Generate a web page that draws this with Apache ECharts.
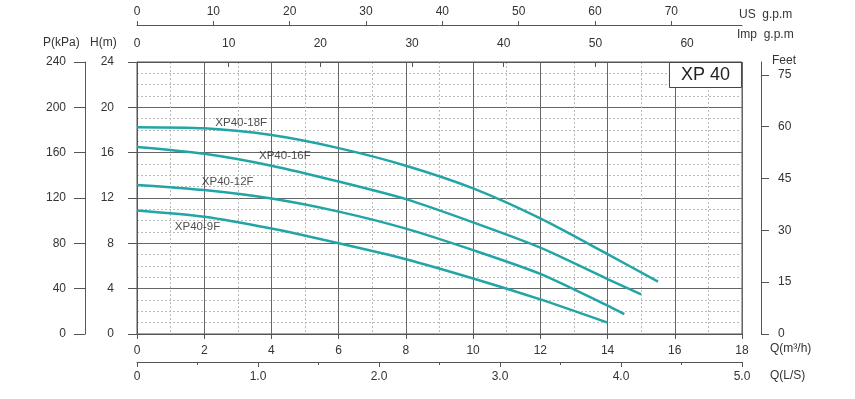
<!DOCTYPE html>
<html>
<head>
<meta charset="utf-8">
<title>XP 40</title>
<script src="https://cdn.jsdelivr.net/npm/echarts@6/dist/echarts.min.js"></script>
<style>
    html, body { margin: 0; padding: 0; background: #fff; }
    #chart { width: 855px; height: 399px; }
</style>
</head>
<body>
<div id="chart"></div>
<script>
// 曲线数据 Q(m3/h) -> H(m)
var q18 = [0, 2, 4, 6, 8, 10, 12, 14, 15.5];
var h18 = [18.25, 18.15, 17.55, 16.4, 14.85, 12.85, 10.2, 7.05, 4.62];
var q16 = [0, 2, 4, 6, 8, 10, 12, 14, 15.0];
var h16 = [16.5, 15.9, 14.85, 13.45, 11.9, 9.85, 7.62, 4.85, 3.5];
var q12 = [0, 2, 4, 6, 8, 10, 12, 14, 14.5];
var h12 = [13.15, 12.7, 11.95, 10.8, 9.3, 7.4, 5.3, 2.5, 1.75];
var q9 = [0, 2, 4, 6, 8, 10, 12, 14];
var h9 = [10.9, 10.35, 9.3, 8.0, 6.6, 4.9, 3.05, 1.0];

// 曲线名称与位置
var labelNames = ['XP40-18F', 'XP40-16F', 'XP40-12F', 'XP40-9F'];
var labelQ = [3.1, 4.4, 2.7, 1.8];
var labelH = [18.65, 15.7, 13.4, 9.45];

// 换算
var M3H_MAX = 18;
var US_GPM = 4.403;   // 1 m3/h
var IMP_GPM = 3.666;
var FEET = 3.2808;

var font = 'Liberation Sans, Arial, sans-serif';
var txt = '#333';
var lineColor = '#22a5a7';

function pairs(q, h) {
    var out = [];
    for (var i = 0; i < q.length; i++) out.push([q[i], h[i]]);
    return out;
}

var curves = [[q18, h18], [q16, h16], [q12, h12], [q9, h9]];
var series = curves.map(function (c, i) {
    return {
        name: labelNames[i],
        type: 'line',
        smooth: 0.25,
        symbol: 'none',
        xAxisIndex: 0,
        yAxisIndex: 0,
        lineStyle: { color: lineColor, width: 2.5 },
        data: pairs(c[0], c[1]),
        z: 5
    };
});
series.push({
    type: 'scatter',
    symbolSize: 0,
    xAxisIndex: 0,
    yAxisIndex: 0,
    data: labelNames.map(function (n, i) { return [labelQ[i], labelH[i], n]; }),
    label: {
        show: true,
        position: 'inside',
        formatter: function (p) { return p.value[2]; },
        color: '#222',
        fontSize: 11.5,
        fontFamily: font
    },
    z: 6
});

var axisGray = '#555';

var myChart = echarts.init(document.getElementById('chart'));
myChart.setOption({
    animation: false,
    textStyle: { fontFamily: font },
    title: {
        text: 'XP 40',
        right: 113,
        top: 62,
        padding: [4, 12, 4, 12],
        borderColor: '#444',
        borderWidth: 1,
        backgroundColor: '#fff',
        textStyle: { fontSize: 18, fontWeight: 'normal', color: '#222', fontFamily: font }
    },
    grid: {
        left: 137, right: 113, top: 62, bottom: 65,
        show: true, borderColor: axisGray, borderWidth: 1
    },
    xAxis: [{
        type: 'value', position: 'bottom', min: 0, max: M3H_MAX, interval: 2,
        axisLine: { lineStyle: { color: axisGray } },
        axisTick: { show: true, length: 5, lineStyle: { color: axisGray } },
        axisLabel: { color: txt, fontSize: 12, margin: 11 },
        splitLine: { show: true, lineStyle: { color: '#666', width: 1 } },
        minorTick: { show: false, splitNumber: 2 },
        minorSplitLine: { show: true, lineStyle: { color: '#bbb', type: [2, 2] } }
    }, {
        type: 'value', position: 'bottom', offset: 28, min: 0, max: 5, interval: 1,
        axisLine: { onZero: false, lineStyle: { color: axisGray } },
        axisTick: { show: true, length: 5, lineStyle: { color: axisGray } },
        minorTick: { show: true, splitNumber: 2, length: 3, lineStyle: { color: axisGray } },
        axisLabel: {
            color: txt, fontSize: 12, margin: 9,
            formatter: function (v) { return v === 0 ? '0' : v.toFixed(1); }
        },
        splitLine: { show: false }
    }, {
        type: 'value', position: 'top', offset: 0, min: 0, max: M3H_MAX * IMP_GPM, interval: 10,
        axisLine: { onZero: false, lineStyle: { color: axisGray } },
        axisTick: { show: true, inside: true, length: 5, lineStyle: { color: axisGray } },
        axisLabel: { color: txt, fontSize: 12, margin: 12, showMaxLabel: false },
        splitLine: { show: false }
    }, {
        type: 'value', position: 'top', offset: 37, min: 0, max: M3H_MAX * US_GPM, interval: 10,
        axisLine: { onZero: false, lineStyle: { color: axisGray } },
        axisTick: { show: true, length: 4, lineStyle: { color: axisGray } },
        axisLabel: { color: txt, fontSize: 12, margin: 7, showMaxLabel: false },
        splitLine: { show: false }
    }],
    yAxis: [{
        type: 'value', position: 'left', min: 0, max: 24, interval: 4,
        axisLine: { show: true, onZero: false, lineStyle: { color: axisGray } },
        axisTick: { show: true, length: 9, lineStyle: { color: axisGray } },
        axisLabel: { color: txt, fontSize: 12, margin: 23 },
        splitLine: { show: true, lineStyle: { color: '#666', width: 1 } },
        minorTick: { show: false, splitNumber: 4 },
        minorSplitLine: { show: true, lineStyle: { color: '#bbb', type: [2, 2] } }
    }, {
        type: 'value', position: 'left', offset: 52, min: 0, max: 240, interval: 40,
        axisLine: { show: true, onZero: false, lineStyle: { color: axisGray } },
        axisTick: { show: true, length: 11, lineStyle: { color: axisGray } },
        axisLabel: { color: txt, fontSize: 12, margin: 19 },
        splitLine: { show: false }
    }, {
        type: 'value', position: 'right', offset: 19, min: 0, max: 24 * FEET, interval: 15,
        axisLine: { show: true, onZero: false, lineStyle: { color: axisGray } },
        axisTick: { show: true, length: 8, lineStyle: { color: axisGray } },
        axisLabel: { color: txt, fontSize: 12, margin: 17, showMaxLabel: false },
        splitLine: { show: false }
    }],
    graphic: [
        { type: 'text', left: 43, top: 37, style: { text: 'P(kPa)', fill: txt, font: '12px ' + font } },
        { type: 'text', left: 90, top: 37, style: { text: 'H(m)', fill: txt, font: '12px ' + font } },
        { type: 'text', left: 772, top: 55, style: { text: 'Feet', fill: txt, font: '12px ' + font } },
        { type: 'text', left: 770, top: 343, style: { text: 'Q(m³/h)', fill: txt, font: '12px ' + font } },
        { type: 'text', left: 770, top: 370, style: { text: 'Q(L/S)', fill: txt, font: '12px ' + font } },
        { type: 'text', left: 739, top: 9, style: { text: 'US  g.p.m', fill: txt, font: '12px ' + font } },
        { type: 'text', left: 737, top: 29, style: { text: 'Imp  g.p.m', fill: txt, font: '12px ' + font } }
    ],
    series: series
});
</script>
</body>
</html>
